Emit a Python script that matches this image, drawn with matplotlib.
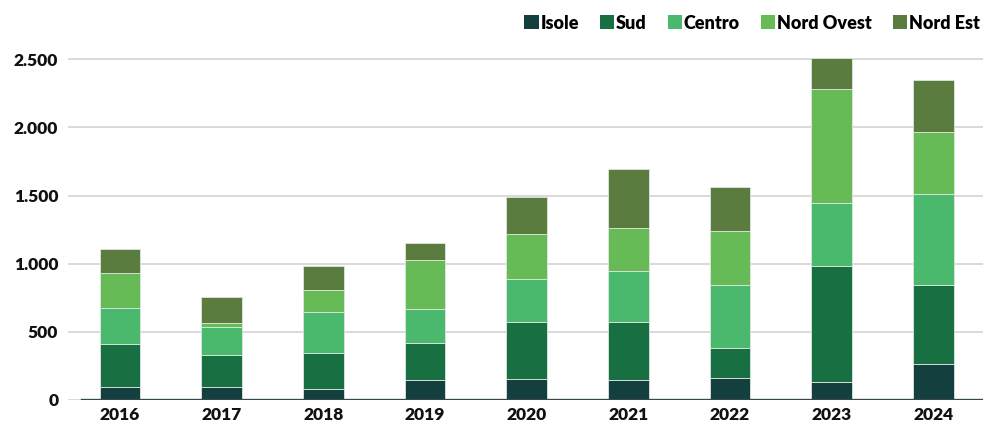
import matplotlib
matplotlib.use("Agg")
import matplotlib.pyplot as plt
from matplotlib.ticker import FuncFormatter
from matplotlib.patches import Patch

years = ["2016", "2017", "2018", "2019", "2020", "2021", "2022", "2023", "2024"]
isole = [98, 93, 78, 144, 151, 144, 159, 134, 261]
sud = [310, 234, 264, 276, 423, 430, 225, 848, 584]
centro = [264, 206, 301, 245, 311, 372, 456, 460, 667]
nord_ovest = [256, 34, 166, 359, 332, 312, 399, 838, 455]
nord_est = [181, 185, 173, 127, 273, 440, 325, 229, 379]

series_names = ["Isole", "Sud", "Centro", "Nord Ovest", "Nord Est"]
series_vals = [isole, sud, centro, nord_ovest, nord_est]
colors = ["#133f3f", "#186f42", "#4ab86d", "#67bb57", "#5a7c3e"]

plt.rcParams['font.family'] = ['Lato', 'DejaVu Sans']

fig = plt.figure(figsize=(9.87, 4.26), dpi=100)
ax = fig.add_axes([68/987, 26/426, 915/987, 349/426])

x = list(range(len(years)))
bottom = [0]*len(years)
for name, vals, c in zip(series_names, series_vals, colors):
    ax.bar(x, vals, width=0.4, bottom=bottom, color=c, edgecolor="#dfe6e0",
           linewidth=0.6, label=name, zorder=3)
    bottom = [b + v for b, v in zip(bottom, vals)]

ax.set_xlim(-0.51, 8.49)
ax.set_ylim(0, 2560)
ax.set_yticks([0, 500, 1000, 1500, 2000, 2500])
ax.yaxis.set_major_formatter(FuncFormatter(lambda v, p: f"{int(v):,}".replace(",", ".")))
ax.grid(axis="y", color="#d9d9d9", linewidth=1.4, zorder=0)
ax.set_axisbelow(True)
for s in ax.spines.values():
    s.set_visible(False)
ax.axhline(0, xmin=14/915, xmax=1, color="#34494d", linewidth=2.4, zorder=4)
ax.set_xticks(x)
ax.set_xticklabels(years)
ax.tick_params(axis="both", length=0, labelsize=12.5)
ax.tick_params(axis="x", pad=5)
ax.tick_params(axis="y", pad=7)
for lbl in ax.get_xticklabels() + ax.get_yticklabels():
    lbl.set_fontweight("heavy")
    lbl.set_color("#111111")

handles = [Patch(facecolor=c, edgecolor="none") for c in colors]
fig.legend(handles, series_names, loc="upper right", bbox_to_anchor=(1.009, 1.004),
           ncol=5, frameon=False, handlelength=0.8, handleheight=0.8,
           handletextpad=0.1, columnspacing=1.15,
           prop={"weight": "heavy", "size": 13})

fig.savefig("out.png", dpi=100)
